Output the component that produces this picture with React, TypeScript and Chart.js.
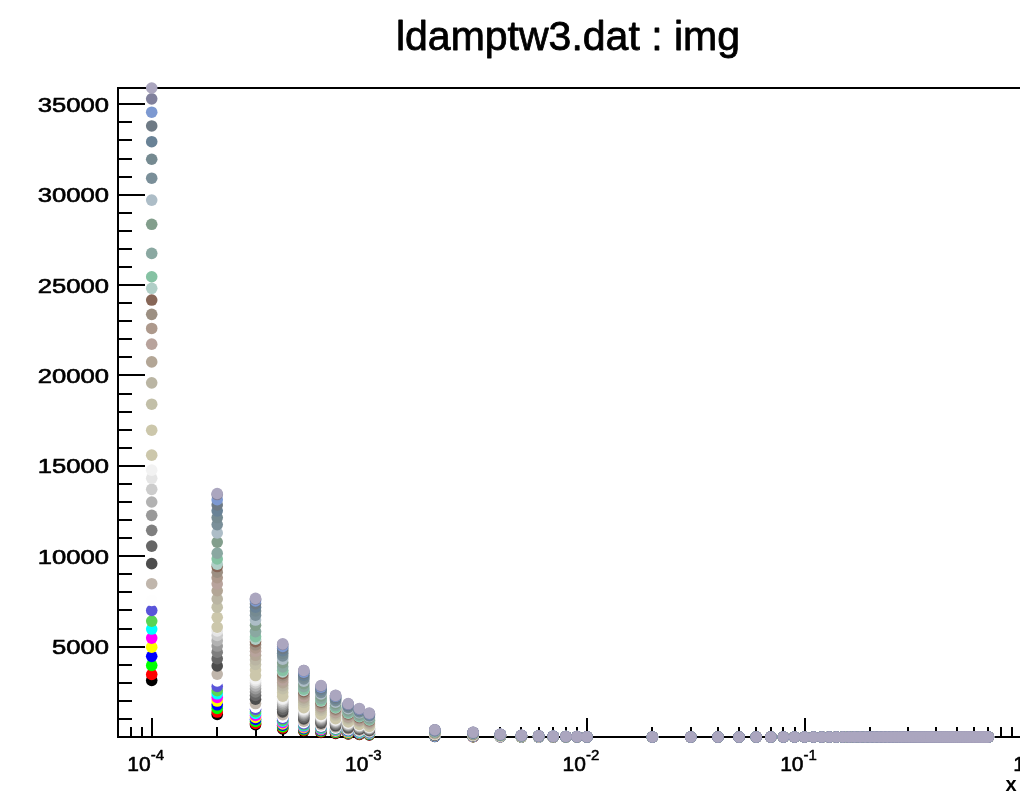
import { useEffect, useRef } from "react";
import { Chart, registerables } from "chart.js";

Chart.register(...registerables);

// ---------------- data ----------------
const TITLE = "ldamptw3.dat : img";
const X_TITLE = "x";

// x positions of the points
const X_DECADE1 = [0.0001, 0.0002, 0.0003, 0.0004, 0.0005, 0.0006, 0.0007, 0.0008, 0.0009, 0.001];
const X_DECADE2 = [0.002, 0.003, 0.004, 0.005, 0.006, 0.007, 0.008, 0.009, 0.01];
const X_FLAT = [
  0.02, 0.03, 0.04, 0.05, 0.06, 0.07, 0.08, 0.09, 0.1,
  0.11, 0.12, 0.13, 0.14, 0.15, 0.16, 0.17, 0.18, 0.19, 0.2,
  0.21, 0.22, 0.23, 0.24, 0.25, 0.26, 0.27, 0.28, 0.29, 0.3,
  0.31, 0.32, 0.33, 0.34, 0.35, 0.36, 0.37, 0.38, 0.39, 0.4,
  0.41, 0.42, 0.43, 0.44, 0.45, 0.46, 0.47, 0.48, 0.49, 0.5,
  0.51, 0.52, 0.53, 0.54, 0.55, 0.56, 0.57, 0.58, 0.59, 0.6,
  0.61, 0.62, 0.63, 0.64, 0.65, 0.66, 0.67, 0.68, 0.69, 0.7,
];
// values of every series on X_FLAT (all read as ~0)
const FLAT_VALUES = [
  0, 0, 0, 0, 0, 0, 0, 0, 0,
  0, 0, 0, 0, 0, 0, 0, 0, 0, 0,
  0, 0, 0, 0, 0, 0, 0, 0, 0, 0,
  0, 0, 0, 0, 0, 0, 0, 0, 0, 0,
  0, 0, 0, 0, 0, 0, 0, 0, 0, 0,
  0, 0, 0, 0, 0, 0, 0, 0, 0, 0,
  0, 0, 0, 0, 0, 0, 0, 0, 0, 0,
];

// per-series values on X_DECADE1 followed by X_DECADE2
const S01 = [3130, 1250, 680, 450, 330, 250, 200, 170, 140, 120, 35, 23, 13, 8, 5, 3, 3, 2, 1];
const S02 = [3460, 1380, 750, 500, 360, 280, 220, 180, 160, 130, 38, 25, 15, 9, 6, 4, 3, 2, 1];
const S03 = [3960, 1580, 860, 570, 410, 320, 260, 210, 180, 150, 44, 29, 17, 10, 7, 4, 3, 2, 1];
const S04 = [4460, 1780, 970, 650, 460, 360, 290, 240, 200, 170, 50, 32, 19, 11, 8, 5, 4, 3, 1];
const S05 = [4970, 1990, 1080, 720, 520, 400, 320, 260, 220, 190, 55, 36, 21, 12, 8, 5, 4, 3, 1];
const S06 = [5470, 2190, 1190, 790, 570, 440, 360, 290, 250, 210, 61, 39, 23, 14, 9, 6, 4, 3, 2];
const S07 = [5970, 2390, 1300, 870, 620, 480, 390, 320, 270, 230, 66, 43, 25, 15, 10, 7, 5, 4, 2];
const S08 = [6410, 2560, 1400, 930, 670, 510, 420, 340, 290, 240, 71, 46, 27, 16, 11, 7, 5, 4, 2];
const S09 = [7000, 2800, 1530, 1020, 730, 560, 460, 370, 320, 270, 78, 50, 29, 18, 12, 8, 6, 4, 2];
const S10 = [7560, 3100, 1650, 1100, 790, 600, 490, 400, 340, 290, 84, 54, 32, 19, 13, 8, 6, 5, 2];
const S11 = [8480, 3480, 1850, 1230, 880, 680, 550, 450, 380, 320, 94, 61, 36, 21, 14, 9, 7, 5, 3];
const S12 = [9590, 3930, 2090, 1390, 1000, 770, 620, 510, 430, 360, 106, 69, 40, 24, 16, 11, 8, 6, 3];
const S13 = [10560, 4330, 2300, 1530, 1100, 840, 690, 560, 480, 400, 117, 76, 44, 26, 18, 12, 8, 6, 3];
const S14 = [11430, 4690, 2490, 1660, 1190, 910, 740, 610, 510, 430, 127, 82, 48, 29, 19, 13, 9, 7, 3];
const S15 = [12260, 5030, 2670, 1780, 1280, 980, 800, 650, 550, 470, 136, 88, 51, 31, 21, 13, 10, 7, 4];
const S16 = [13000, 5330, 2830, 1890, 1350, 1040, 850, 690, 590, 490, 144, 94, 55, 33, 22, 14, 10, 8, 4];
const S17 = [13700, 5620, 2990, 1990, 1420, 1100, 890, 730, 620, 520, 152, 99, 58, 34, 23, 15, 11, 8, 4];
const S18 = [14310, 5870, 3120, 2080, 1490, 1140, 930, 760, 640, 540, 159, 103, 60, 36, 24, 16, 11, 9, 4];
const S19 = [14760, 6050, 3220, 2140, 1540, 1180, 960, 780, 660, 560, 164, 106, 62, 37, 25, 16, 12, 9, 4];
const S20 = [15590, 6080, 3400, 2260, 1620, 1250, 1010, 830, 700, 590, 173, 112, 65, 39, 27, 17, 12, 9, 5];
const S21 = [16970, 6620, 3700, 2460, 1760, 1360, 1100, 900, 760, 640, 188, 122, 71, 42, 29, 19, 14, 10, 5];
const S22 = [18410, 7180, 4010, 2670, 1910, 1470, 1200, 980, 830, 700, 204, 133, 77, 46, 31, 20, 15, 11, 6];
const S23 = [19590, 7640, 4270, 2840, 2040, 1570, 1270, 1040, 880, 740, 217, 141, 82, 49, 33, 22, 16, 12, 6];
const S24 = [20750, 8090, 4520, 3010, 2160, 1660, 1350, 1100, 930, 790, 230, 149, 87, 52, 35, 23, 17, 12, 6];
const S25 = [21730, 8470, 4740, 3150, 2260, 1740, 1410, 1150, 980, 830, 241, 156, 91, 54, 37, 24, 17, 13, 7];
const S26 = [22600, 8810, 4930, 3280, 2350, 1810, 1470, 1200, 1020, 860, 251, 163, 95, 57, 38, 25, 18, 14, 7];
const S27 = [23380, 9120, 5100, 3390, 2430, 1870, 1520, 1240, 1050, 890, 260, 168, 98, 58, 40, 26, 19, 14, 7];
const S28 = [24170, 9430, 5270, 3500, 2510, 1930, 1570, 1280, 1090, 920, 268, 174, 102, 60, 41, 27, 19, 15, 7];
const S29 = [24820, 9560, 5410, 3600, 2580, 1990, 1610, 1320, 1120, 940, 276, 179, 104, 62, 42, 27, 20, 15, 7];
const S30 = [25460, 9850, 5550, 3690, 2650, 2040, 1650, 1350, 1150, 970, 283, 183, 107, 64, 43, 28, 20, 15, 8];
const S31 = [26750, 10170, 5830, 3880, 2780, 2140, 1740, 1420, 1200, 1020, 297, 193, 112, 67, 45, 29, 21, 16, 8];
const S32 = [28360, 10780, 6180, 4110, 2950, 2270, 1840, 1500, 1280, 1080, 315, 204, 119, 71, 48, 31, 23, 17, 9];
const S33 = [29700, 11290, 6470, 4310, 3090, 2380, 1930, 1570, 1340, 1130, 330, 214, 125, 74, 50, 33, 24, 18, 9];
const S34 = [30910, 11750, 6740, 4480, 3210, 2470, 2010, 1640, 1390, 1170, 343, 223, 130, 77, 53, 34, 25, 19, 9];
const S35 = [31960, 12140, 6970, 4630, 3320, 2560, 2080, 1690, 1440, 1210, 355, 230, 134, 80, 54, 35, 26, 19, 10];
const S36 = [32930, 12510, 7180, 4770, 3420, 2630, 2140, 1750, 1480, 1250, 366, 237, 138, 82, 56, 36, 26, 20, 10];
const S37 = [33800, 12840, 7370, 4900, 3520, 2700, 2200, 1780, 1500, 1260, 375, 243, 142, 85, 57, 37, 27, 20, 10];
const S38 = [34560, 13130, 7530, 5010, 3590, 2760, 2250, 1800, 1530, 1280, 384, 249, 145, 86, 59, 38, 28, 21, 10];
const S39 = [35300, 13410, 7620, 5120, 3670, 2820, 2290, 1820, 1550, 1300, 392, 254, 148, 88, 60, 39, 28, 21, 11];
const S40 = [35900, 13470, 7670, 5150, 3680, 2850, 2300, 1850, 1580, 1320, 400, 260, 150, 90, 60, 40, 30, 20, 10];

const SERIES = [
  S01, S02, S03, S04, S05, S06, S07, S08, S09, S10,
  S11, S12, S13, S14, S15, S16, S17, S18, S19, S20,
  S21, S22, S23, S24, S25, S26, S27, S28, S29, S30,
  S31, S32, S33, S34, S35, S36, S37, S38, S39, S40,
];

const COLORS = [
  "#000000", "#FF0000", "#00FF00", "#0000FF", "#FFFF00", "#FF00FF", "#00FFFF", "#59D454", "#5954D9", "#FEFEFE",
  "#C0B6AC", "#4D4D4D", "#666666", "#7F7F7F", "#999999", "#B2B2B2", "#CCCCCC", "#E5E5E5", "#F2F2F2", "#CCC7AB",
  "#CCC7AB", "#C2BFA8", "#BAB5A3", "#B3A696", "#B8A39C", "#AD998C", "#9C8F82", "#876657", "#B0CFC7", "#85C2A3",
  "#8AA8A1", "#829E8C", "#ADBDC7", "#7A8F99", "#758A91", "#698296", "#6E7A85", "#7D99D1", "#80809C", "#ABA6BF",
];

// axes
const X_MIN = 7.13e-5;
const X_MAX = 1.66;
const Y_MIN = 0;
const Y_MAX = 35900;
const Y_TICK_VALUES = [5000, 10000, 15000, 20000, 25000, 30000, 35000];
const Y_TICK_LABELS = ["5000", "10000", "15000", "20000", "25000", "30000", "35000"];
const Y_MINOR_STEP = 1000;
const X_TICK_VALUES = [0.0001, 0.001, 0.01, 0.1, 1];
const X_TICK_BASES = ["10", "10", "10", "10", "1"];
const X_TICK_EXPS = ["-4", "-3", "-2", "-1", ""];

// ---------------- layout ----------------
const CANVAS_W = 1100;
const CANVAS_H = 799;
const AREA = { left: 118, top: 88, right: 1070, bottom: 737 };
const FONT = "'Liberation Sans', Arial, Helvetica, sans-serif";

function heavyText(ctx: CanvasRenderingContext2D, text: string, x: number, y: number, w: number) {
  ctx.fillText(text, x, y);
  ctx.lineWidth = w;
  ctx.strokeText(text, x, y);
}

const rootAxesPlugin = {
  id: "rootAxes",
  beforeDatasetsDraw(chart: any) {
    const { ctx, chartArea } = chart;
    const xs = chart.scales.x;
    const ys = chart.scales.y;
    ctx.save();
    ctx.strokeStyle = "#000";
    ctx.lineWidth = 2;
    ctx.lineCap = "butt";
    // frame
    ctx.strokeRect(chartArea.left, chartArea.top, chartArea.right - chartArea.left, chartArea.bottom - chartArea.top);
    // y ticks
    ctx.beginPath();
    for (let v = Y_MINOR_STEP; v <= Y_MAX; v += Y_MINOR_STEP) {
      const py = Math.round(ys.getPixelForValue(v));
      const len = v % 5000 === 0 ? 27 : 14;
      ctx.moveTo(chartArea.left, py);
      ctx.lineTo(chartArea.left + len, py);
    }
    // x ticks
    for (let d = -5; d <= 0; d++) {
      for (let m = 1; m <= 9; m++) {
        const v = m * Math.pow(10, d);
        if (v < X_MIN || v > X_MAX) continue;
        const px = Math.round(xs.getPixelForValue(v));
        const len = m === 1 ? 19 : 10;
        ctx.moveTo(px, chartArea.bottom);
        ctx.lineTo(px, chartArea.bottom - len);
      }
    }
    ctx.stroke();
    ctx.restore();
  },
  afterDraw(chart: any) {
    const { ctx, chartArea } = chart;
    const xs = chart.scales.x;
    const ys = chart.scales.y;
    ctx.save();
    ctx.fillStyle = "#000";
    ctx.strokeStyle = "#000";
    ctx.lineJoin = "round";
    // title
    ctx.font = `41px ${FONT}`;
    ctx.textAlign = "center";
    ctx.textBaseline = "alphabetic";
    heavyText(ctx, TITLE, 568, 50, 0.8);
    // y labels
    ctx.font = `20px ${FONT}`;
    ctx.textAlign = "right";
    ctx.textBaseline = "middle";
    Y_TICK_VALUES.forEach((v, i) => {
      const py = ys.getPixelForValue(v);
      ctx.save();
      ctx.translate(109, py + 2);
      ctx.scale(1.28, 1);
      heavyText(ctx, Y_TICK_LABELS[i], 0, 0, 0.6);
      ctx.restore();
    });
    // x labels
    ctx.textBaseline = "alphabetic";
    X_TICK_VALUES.forEach((v, i) => {
      const px = xs.getPixelForValue(v);
      ctx.font = `21px ${FONT}`;
      if (X_TICK_EXPS[i]) {
        ctx.textAlign = "right";
        heavyText(ctx, X_TICK_BASES[i], px - 1, 771, 0.6);
        ctx.font = `15px ${FONT}`;
        ctx.textAlign = "left";
        heavyText(ctx, X_TICK_EXPS[i], px - 1, 760, 0.5);
      } else {
        ctx.textAlign = "center";
        heavyText(ctx, X_TICK_BASES[i], px - 3, 771, 0.6);
      }
    });
    // x title
    ctx.font = `bold 20px ${FONT}`;
    ctx.textAlign = "center";
    ctx.fillText(X_TITLE, chartArea.right - 59, 791);
    ctx.restore();
  },
};

export default function App() {
  const canvasRef = useRef<HTMLCanvasElement | null>(null);

  useEffect(() => {
    const canvas = canvasRef.current;
    if (!canvas) return;
    const allX = [...X_DECADE1, ...X_DECADE2, ...X_FLAT];
    const datasets = SERIES.map((vals, k) => {
      const allY = [...vals, ...FLAT_VALUES];
      return {
        label: `series ${k + 1}`,
        data: allX.map((x, i) => ({ x, y: allY[i] })),
        backgroundColor: COLORS[k],
        borderColor: COLORS[k],
        pointBackgroundColor: COLORS[k],
        pointBorderWidth: 0,
        pointRadius: 5.8,
        pointHoverRadius: 5.8,
        showLine: false,
        clip: false as any,
        order: SERIES.length - 1 - k,
      };
    });
    const chart = new Chart(canvas, {
      type: "scatter",
      data: { datasets },
      options: {
        responsive: false,
        animation: false,
        devicePixelRatio: 1,
        events: [],
        layout: {
          padding: {
            left: AREA.left,
            top: AREA.top,
            right: CANVAS_W - AREA.right,
            bottom: CANVAS_H - AREA.bottom,
          },
        },
        plugins: {
          legend: { display: false },
          tooltip: { enabled: false },
          title: { display: false },
        },
        scales: {
          x: { type: "logarithmic", min: X_MIN, max: X_MAX, display: false },
          y: { type: "linear", min: Y_MIN, max: Y_MAX, display: false },
        },
      },
      plugins: [rootAxesPlugin],
    });
    return () => chart.destroy();
  }, []);

  return (
    <div
      style={{
        position: "fixed",
        left: 0,
        top: 0,
        width: 1020,
        height: 799,
        overflow: "hidden",
        background: "#fff",
      }}
    >
      <canvas
        ref={canvasRef}
        width={CANVAS_W}
        height={CANVAS_H}
        style={{ width: CANVAS_W, height: CANVAS_H, display: "block" }}
      />
    </div>
  );
}
